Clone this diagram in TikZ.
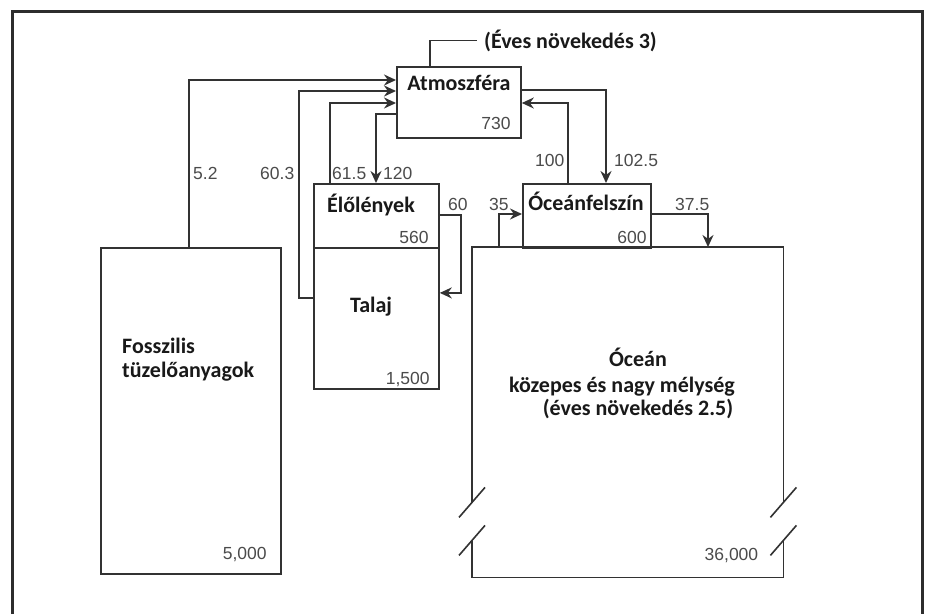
\documentclass[tikz,border=0pt]{standalone}
\usepackage{fontspec}
\setmainfont{Carlito}
\newfontfamily\numfont{Liberation Sans}
\usetikzlibrary{arrows.meta, positioning, calc}
\definecolor{linegray}{RGB}{50,50,50}
\definecolor{numgray}{RGB}{75,75,75}
\definecolor{framegray}{RGB}{45,45,45}

\begin{document}
\begin{tikzpicture}[x=1pt, y=-1pt,
    box/.style={draw=linegray, line width=1.8pt, inner sep=0pt, anchor=north west},
    title/.style={font=\fontsize{22}{25}\selectfont\bfseries, text=black!90, inner sep=0pt, anchor=base},
    num/.style={font=\numfont\fontsize{17.5}{19}\selectfont, text=numgray, inner sep=0pt, anchor=base west},
    flow/.style={draw=linegray, line width=1.8pt, -{Stealth[length=12pt,width=11pt]}},
    link/.style={draw=linegray, line width=1.8pt},
    brk/.style={draw=linegray, line width=1.6pt}
]
    \useasboundingbox[fill=white] (0,0) rectangle (929,614);
    \draw[line width=3pt, framegray] (12,614) -- (12,11) -- (922,11) -- (922,614);

    % Reservoirs
    \node[box, minimum width=124pt, minimum height=71pt]  (atm)  at (396,66)  {};
    \node[box, minimum width=125pt, minimum height=64pt]  (bio)  at (313,183) {};
    \node[box, minimum width=125pt, minimum height=141pt] (soil) at (313,247) {};
    \node[box, minimum width=128pt, minimum height=64pt]  (surf) at (522,183) {};
    \node[box, minimum width=180pt, minimum height=326pt] (fos)  at (100,247) {};
    \node[inner sep=0pt, anchor=north west, minimum width=311pt, minimum height=330pt] (deep) at (472,247) {};

    % Deep ocean outline with breaks
    \draw[link] ([yshift=75pt]deep.south west) -- (deep.north west) -- (deep.north east) -- ([yshift=75pt]deep.south east);
    \draw[link] ([yshift=37pt]deep.south west) -- (deep.south west) -- (deep.south east) -- ([yshift=37pt]deep.south east);
    \foreach \side/\dy in {west/75pt, west/37pt, east/75pt, east/37pt}
        \draw[brk] ([yshift=\dy]deep.south \side) ++(-13pt,-15pt) -- ++(26pt,30pt);

    % Titles
    \node[title] (atmT)  at (459,90)  {Atmoszféra};
    \node[title] (bioT)  at (371,212) {Élőlények};
    \node[title] (surfT) at (586,210) {Óceánfelszín};
    \node[title] (soilT) at (371,312) {Talaj};
    \node[title, anchor=base west] (fosT) at (122,353) {Fosszilis};
    \node[title, anchor=base west] at (122,377) {tüzelőanyagok};
    \node[title] (deepT) at (638,366) {Óceán};
    \node[title] at (622,392) {közepes és nagy mélység};
    \node[title] at (638,415) {(éves növekedés 2.5)};
    \node[title, anchor=base west] (grow) at (484,48) {(Éves növekedés 3)};

    % Stock sizes
    \node[num, anchor=base east] at ([xshift=-11pt,yshift=9pt]atm.south east)  {730};
    \node[num, anchor=base east] at ([xshift=-11pt,yshift=5pt]bio.south east)  {560};
    \node[num, anchor=base east] at ([xshift=-5pt,yshift=5pt]surf.south east)  {600};
    \node[num, anchor=base east] at ([xshift=-10pt,yshift=5pt]soil.south east) {1,500};
    \node[num, anchor=base east] at ([xshift=-15pt,yshift=15pt]fos.south east) {5,000};
    \node[num, anchor=base east] at ([xshift=-25pt,yshift=17pt]deep.south east) {36,000};

    % Fluxes
    \draw[link] ([xshift=34pt]atm.north west) |- ([xshift=-7pt]grow.west);
    \draw[flow] ([xshift=89pt]fos.north west) |- ([yshift=-14pt]atm.north west);
    \draw[flow] ([yshift=20.5pt]soil.west) -- ++(-14pt,0) |- ([yshift=-25pt]atm.north west);
    \draw[flow] ([xshift=17pt]bio.north west) |- ([yshift=-37pt]atm.north west);
    \draw[flow] ([yshift=-48pt]atm.north west) -| ([xshift=63pt]bio.north west);
    \draw[flow] ([yshift=-32pt]bio.north east) -- ++(21pt,0) |- ([yshift=25.5pt]soil.east);
    \draw[flow] ([xshift=46pt]surf.north west) |- ([yshift=-37pt]atm.north east);
    \draw[flow] ([yshift=-24pt]atm.north east) -| ([xshift=84pt]surf.north west);
    \draw[flow] ([xshift=27pt]deep.north west) |- ([yshift=-31pt]surf.north west);
    \draw[flow] ([yshift=-31pt]surf.north east) -| ([xshift=236pt]deep.north west);

    % Flux labels
    \node[num] at (193,179) {5.2};
    \node[num] at (260,179) {60.3};
    \node[num] at (332,179) {61.5};
    \node[num] at (383,179) {120};
    \node[num] at (535,166) {100};
    \node[num] at (614,166) {102.5};
    \node[num] at (448,210) {60};
    \node[num] at (489,210) {35};
    \node[num] at (675,210) {37.5};
\end{tikzpicture}
\end{document}
